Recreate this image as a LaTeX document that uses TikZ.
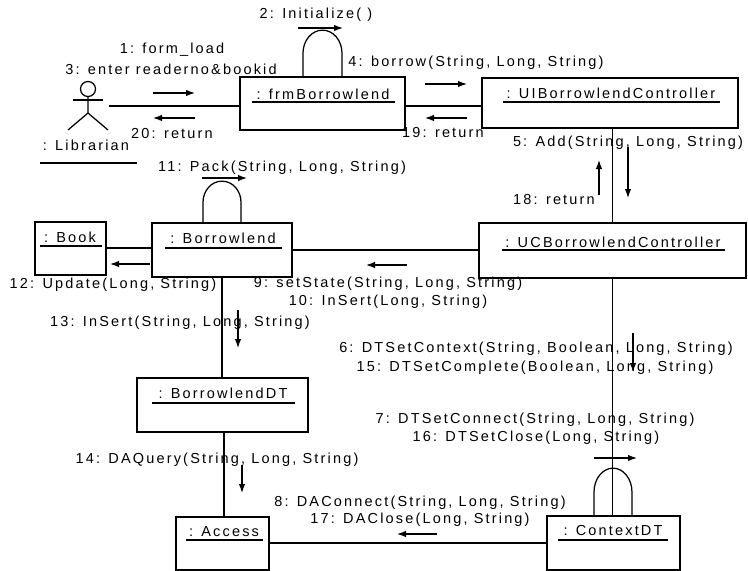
\documentclass[tikz,border=0pt]{standalone}
\usepackage{fontspec}
\setmainfont{Liberation Sans}[LetterSpace=15]
\usetikzlibrary{arrows.meta}
\begin{document}
\begin{tikzpicture}[x=1pt,y=-1pt,
  box/.style={draw, line width=1.7pt, inner sep=0pt},
  conn/.style={line width=1.25pt},
  ul/.style={line width=1.25pt},
  msg/.style={line width=1.25pt, -{Latex[length=9pt,width=6.5pt]}},
  txt/.style={inner sep=0pt, font=\fontsize{14.5}{17}\selectfont},
]
\useasboundingbox (0,0) rectangle (748,571);
\fill[white] (0,0) rectangle (748,571);

% object boxes
\node[box, minimum width=165pt, minimum height=53pt] (frm)  at (322.5,103.5) {};
\node[box, minimum width=256pt, minimum height=50pt] (ui)   at (610,103) {};
\node[box, minimum width=71pt,  minimum height=53pt] (book) at (70.5,248.5) {};
\node[box, minimum width=140pt, minimum height=54pt] (bl)   at (222,250) {};
\node[box, minimum width=267pt, minimum height=55pt] (uc)   at (612.5,250.5) {};
\node[box, minimum width=171pt, minimum height=54pt] (bldt) at (222.5,405) {};
\node[box, minimum width=93pt,  minimum height=53pt] (acc)  at (222.5,543.5) {};
\node[box, minimum width=133pt, minimum height=54pt] (ctx)  at (613.5,543) {};

% object names
\node[txt] (frmT)  at (323,94)  {: frmBorrowlend};
\draw[ul] (252,102) -- (395,102);
\node[txt] (uiT)   at (611,93)  {: UIBorrowlendController};
\draw[ul] (503,102) -- (720,102);
\node[txt] (bookT) at (70,237)  {: Book};
\draw[ul] (40,246) -- (102,246);
\node[txt] (blT)   at (223,238) {: Borrowlend};
\draw[ul] (165,248) -- (282,248);
\node[txt] (ucT)   at (613,242) {: UCBorrowlendController};
\draw[ul] (502,250) -- (725,250);
\node[txt] (bldtT) at (223,393) {: BorrowlendDT};
\draw[ul] (152,403) -- (295,403);
\node[txt] (accT)  at (224,532) {: Access};
\draw[ul] (186,540) -- (263,540);
\node[txt] (ctxT)  at (613,531) {: ContextDT};
\draw[ul] (558,540) -- (668,540);

% actor
\draw[conn] (88,89) circle[radius=7.5pt];
\draw[conn] (88,96.5) -- (88,113) -- (68,130);
\draw[conn] (88,113) -- (108,130);
\draw[conn] (73,100) -- (103,100);
\coordinate (lib) at (109,106);
\node[txt] (libT) at (86,145) {: Librarian};
\draw[ul] (40,163) -- (137,163);

% links
\draw[conn] (lib) -- (lib -| frm.west);
\draw[conn] (frm.east |- lib) -- (ui.west |- lib);
\draw[conn] (uc.north) -- (uc.north |- ui.south);
\draw[conn] (book.east |- 0,248) -- (bl.west |- 0,248);
\draw[conn] (bl.east) -- (uc.west |- bl.east);
\draw[conn] (bl.south) -- (bl.south |- bldt.north);
\draw[conn] (224,432) -- (224,517);
\draw[conn] (uc.south) -- (uc.south |- ctx.north);
\draw[line width=1.6pt] (acc.east |- 0,543) -- (ctx.west |- 0,543);

% self loops
\draw[conn] ([xshift=-19.5pt]frm.north) -- ++(0,-23) arc[start angle=180,end angle=0,x radius=19.5pt,y radius=23pt] -- ([xshift=19.5pt]frm.north);
\draw[conn] ([xshift=-19pt]bl.north) -- ++(0,-20) arc[start angle=180,end angle=0,x radius=19pt,y radius=21pt] -- ([xshift=19pt]bl.north);
\draw[conn] ([xshift=-19.5pt]ctx.north) -- ++(0,-23) arc[start angle=180,end angle=0,x radius=19pt,y radius=24pt] -- ([xshift=18.5pt]ctx.north);

% message arrows
\coordinate (a1s) at (153,93);   \coordinate (a1e) at (195,93);
\coordinate (a20s) at (195,118); \coordinate (a20e) at (153,118);
\coordinate (a4s) at (425,84);   \coordinate (a4e) at (467,84);
\coordinate (a19s) at (467,118); \coordinate (a19e) at (425,118);
\coordinate (a2s) at (298,28);   \coordinate (a2e) at (343,28);
\coordinate (a11s) at (202,178); \coordinate (a11e) at (247,178);
\coordinate (a5s) at (628,147);  \coordinate (a5e) at (628,198);
\coordinate (a18s) at (599,195); \coordinate (a18e) at (599,160);
\coordinate (a12s) at (150,264); \coordinate (a12e) at (110,264);
\coordinate (a9s) at (407,265);  \coordinate (a9e) at (366,265);
\coordinate (a13s) at (238,310); \coordinate (a13e) at (238,348);
\coordinate (a6s) at (633,333);  \coordinate (a6e) at (633,372);
\coordinate (a14s) at (242,465); \coordinate (a14e) at (242,493);
\coordinate (a16s) at (594,458); \coordinate (a16e) at (637,458);
\coordinate (a17s) at (437,534); \coordinate (a17e) at (397,534);
\foreach \a in {a1,a20,a4,a19,a2,a11,a5,a18,a12,a9,a13,a6,a14,a16,a17}
  \draw[msg] (\a s) -- (\a e);

% message labels
\node[txt] (m2)  at (316,15)  {2: Initialize( )};
\node[txt] (m1)  at (172,50)  {1: form\_load};
\node[txt] (m3)  at (171,69)  {3: enter readerno\&bookid};
\node[txt] (m4)  at (476,63)  {4: borrow(String, Long, String)};
\node[txt] (m20) at (172,134) {20: return};
\node[txt] (m19) at (443,133) {19: return};
\node[txt] (m11) at (282,168) {11: Pack(String, Long, String)};
\node[txt] (m5)  at (628,143) {5: Add(String, Long, String)};
\node[txt] (m18) at (554,200) {18: return};
\node[txt] (m12) at (113,285) {12: Update(Long, String)};
\node[txt] (m9)  at (388,284) {9: setState(String, Long, String)};
\node[txt] (m10) at (388,302) {10: InSert(Long, String)};
\node[txt] (m13) at (180,323) {13: InSert(String, Long, String)};
\node[txt] (m6)  at (536,349) {6: DTSetContext(String, Boolean, Long, String)};
\node[txt] (m15) at (535,368) {15: DTSetComplete(Boolean, Long, String)};
\node[txt] (m7)  at (535,420) {7: DTSetConnect(String, Long, String)};
\node[txt] (m16) at (536,438) {16: DTSetClose(Long, String)};
\node[txt] (m14) at (217,460) {14: DAQuery(String, Long, String)};
\node[txt] (m8)  at (420,503) {8: DAConnect(String, Long, String)};
\node[txt] (m17) at (420,520) {17: DAClose(Long, String)};
\end{tikzpicture}
\end{document}
